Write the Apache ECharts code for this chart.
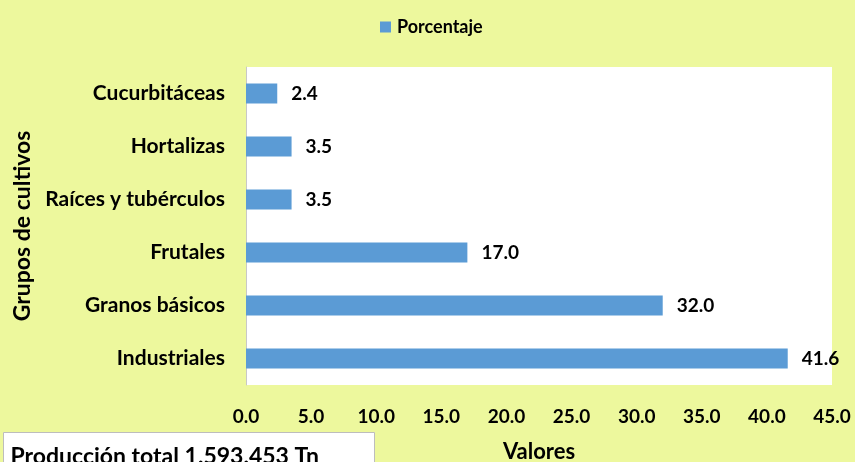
<!DOCTYPE html>
<html>
<head>
<meta charset="utf-8">
<script src="https://cdn.jsdelivr.net/npm/echarts@6/dist/echarts.min.js"></script>
<style>
  html, body { margin: 0; padding: 0; background: #EDF89D; }
  #chart { width: 855px; height: 462px; }
</style>
</head>
<body>
<div id="chart"></div>
<script>
// Crop groups (bottom to top) and their share of total production
const categories = ['Industriales', 'Granos básicos', 'Frutales', 'Raíces y tubérculos', 'Hortalizas', 'Cucurbitáceas'];
const porcentaje = [41.6, 32.0, 17.0, 3.5, 3.5, 2.4];
const seriesName = 'Porcentaje';
const totalNote = 'Producción total 1.593.453 Tn';

const FONT = 'Lato, "Open Sans", sans-serif';
const chart = echarts.init(document.getElementById('chart'));

chart.setOption({
  backgroundColor: '#EDF89D',
  animation: false,
  textStyle: { fontFamily: FONT },
  legend: {
    top: 13, left: 375,
    icon: 'rect', itemWidth: 11, itemHeight: 11, itemGap: 4,
    data: [seriesName],
    textStyle: { fontFamily: FONT, fontWeight: 'bold', fontSize: 18, color: '#000', padding: [0, 0, 0, 1] }
  },
  grid: {
    left: 246, right: 23, top: 67, bottom: 77,
    containLabel: false, outerBoundsMode: 'none',
    show: true, backgroundColor: '#fff', borderWidth: 0
  },
  xAxis: {
    type: 'value', min: 0, max: 45, interval: 5,
    name: 'Valores', nameLocation: 'middle', nameGap: 56,
    nameTextStyle: { fontFamily: FONT, fontWeight: 'bold', fontSize: 22, color: '#000' },
    axisLine: { show: false }, axisTick: { show: false }, splitLine: { show: false },
    axisLabel: { margin: 22, fontFamily: FONT, fontWeight: 'bold', fontSize: 19, color: '#000',
      formatter: v => v.toFixed(1) }
  },
  yAxis: {
    type: 'category', data: categories,
    name: 'Grupos de cultivos', nameLocation: 'middle', nameGap: 210, nameRotate: 90,
    nameTextStyle: { fontFamily: FONT, fontWeight: 'bold', fontSize: 23, color: '#000' },
    axisLine: { show: true, lineStyle: { color: '#C8C8C8', width: 1 } },
    axisTick: { show: false },
    axisLabel: { margin: 21, fontFamily: FONT, fontWeight: 'bold', fontSize: 21, color: '#000' }
  },
  series: [{
    name: seriesName, type: 'bar', data: porcentaje, barWidth: 20,
    itemStyle: { color: '#5B9BD5' },
    label: { show: true, position: 'right', distance: 14, fontFamily: FONT, fontWeight: 'bold',
      fontSize: 19, color: '#000', formatter: p => p.value.toFixed(1) }
  }],
  graphic: [{
    type: 'group', left: 3, top: 432,
    children: [
      { type: 'rect', shape: { x: 0, y: 0, width: 371, height: 50 },
        style: { fill: '#fff', stroke: '#BDBDBD', lineWidth: 1 } },
      { type: 'text', x: 7, y: 13,
        style: { text: totalNote, fontFamily: FONT, fontWeight: 'bold', fontSize: 23, fill: '#000' } }
    ]
  }]
});
</script>
</body>
</html>
